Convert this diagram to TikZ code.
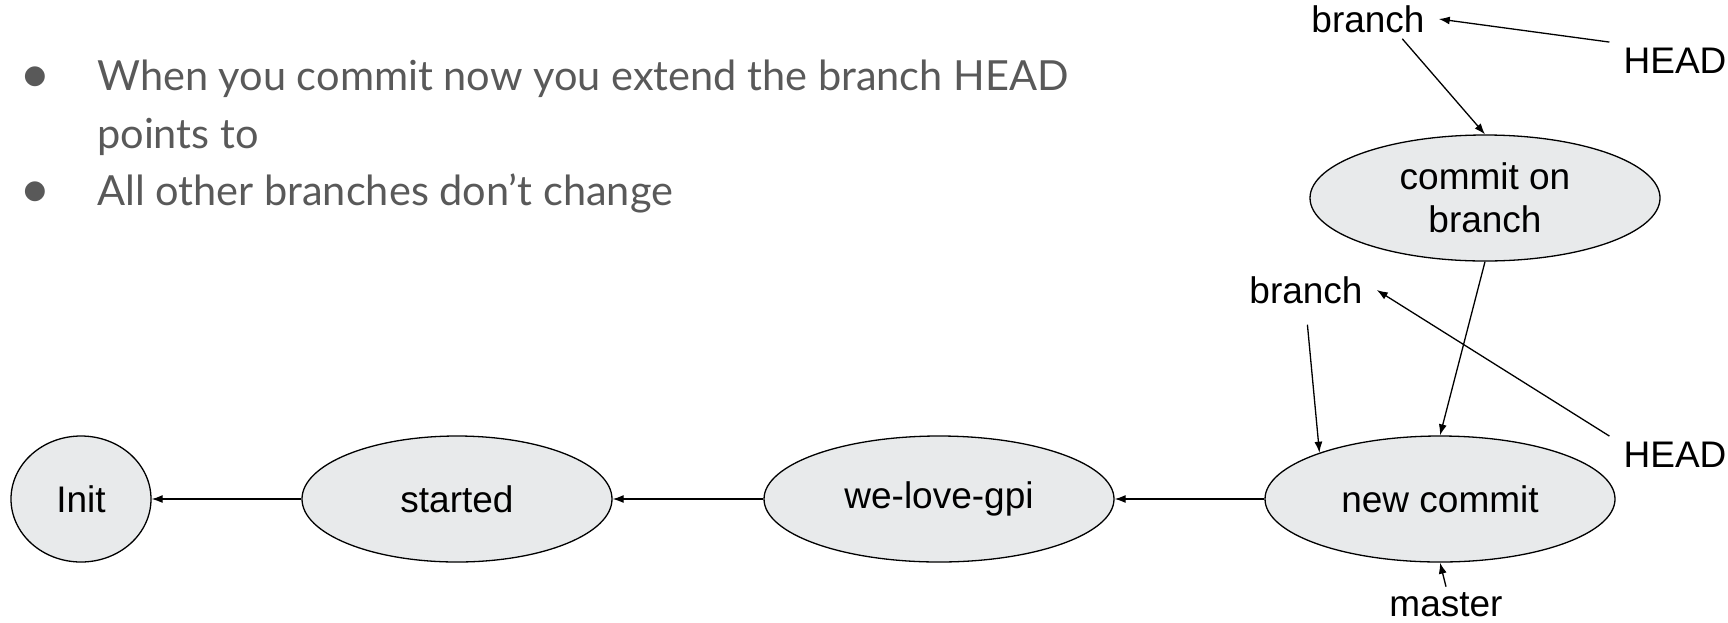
\documentclass[tikz,border=0pt]{standalone}
\usepackage{fontspec}
\setmainfont{Liberation Sans}
\newfontfamily\slidefont{Lato}
\newfontfamily\dotfont{DejaVu Sans}
\usetikzlibrary{positioning,arrows.meta,shapes.geometric}
\definecolor{commitfill}{RGB}{232,234,235}
\definecolor{slidegray}{RGB}{89,89,89}

\begin{document}
\begin{tikzpicture}[x=1pt, y=-1pt, >={Latex[length=11pt,width=8pt]},
  every node/.style={font=\fontsize{37}{43}\selectfont},
  commit/.style={draw, ellipse, fill=commitfill, line width=1.3pt, inner sep=0pt, minimum width=350pt, minimum height=126pt, align=center},
  lbl/.style={inner xsep=14pt, inner ysep=6pt},
  ptr/.style={->, line width=1.3pt},
  slidetext/.style={anchor=base west, inner sep=0pt, text=slidegray, font=\slidefont\fontsize{41.5}{48}\selectfont},
  slidedot/.style={inner sep=0pt, text=slidegray, font=\dotfont\fontsize{26}{30}\selectfont}]
  \useasboundingbox (0,0) rectangle (1728,622);

  % bullet text
  \node[slidedot] (d1) at (35,77) {●};
  \node[slidetext] (t1) at (97,90) {When you commit now you extend the branch HEAD};
  \node[slidetext] (t2) at (97,148) {points to};
  \node[slidedot] (d2) at (35,192) {●};
  \node[slidetext] (t3) at (97,205) {All other branches don’t change};

  % commits
  \node[commit, minimum width=140pt] (init) at (81,499) {Init};
  \node[commit, minimum width=310pt] (started) at (457,499) {started};
  \node[commit] (gpi) at (939,499) {we-love-gpi};
  \node[commit] (newc) at (1440,499) {new commit};
  \node[commit] (onbr) at (1485,198) {commit on\\branch};

  % refs
  \node[lbl] (brtop) at (1368,19) {branch};
  \node[lbl] (headtop) at (1675,61) {HEAD};
  \node[lbl] (brmid) at (1306,290) {branch};
  \node[lbl] (headmid) at (1675,455) {HEAD};
  \node[lbl] (master) at (1446,605) {master};

  \draw[ptr] (started) -- (init);
  \draw[ptr] (gpi) -- (started);
  \draw[ptr] (newc) -- (gpi);
  \draw[ptr] (onbr.south) -- (newc.north);
  \draw[ptr] (headtop.north west) -- (brtop.east);
  \draw[ptr] (brtop.-30) -- (onbr.north);
  \draw[ptr, shorten <=15pt] (brmid.south) -- (newc.159);
  \draw[ptr] (headmid.north west) -- (brmid.east);
  \draw[ptr] (master.north) -- (newc.south);
\end{tikzpicture}
\end{document}
